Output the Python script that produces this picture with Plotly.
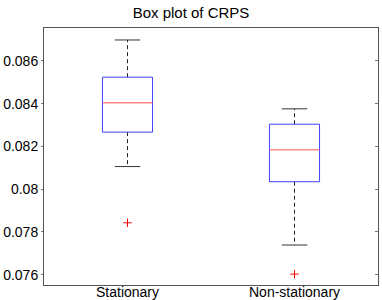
import plotly.graph_objects as go

categories = ["Stationary", "Non-stationary"]
q1 = [0.08267, 0.08035]
median = [0.08404, 0.08184]
q3 = [0.08524, 0.08304]
lower_whisker = [0.08106, 0.07739]
upper_whisker = [0.08698, 0.08376]
outliers = [[0.07843], [0.07603]]
ytick_vals = [0.076, 0.078, 0.08, 0.082, 0.084, 0.086]
ytick_text = ["0.076", "0.078", "0.08", "0.082", "0.084", "0.086"]

BOX_HW = 0.15
CAP_HW = 0.076

fig = go.Figure()
positions = [1, 2]
for i, x in enumerate(positions):
    fig.add_trace(go.Scatter(x=[x, x, None, x, x],
                             y=[q3[i], upper_whisker[i], None, q1[i], lower_whisker[i]],
                             mode="lines", line=dict(color="#222", width=1, dash="4px,3px"),
                             hoverinfo="skip", showlegend=False))
    fig.add_trace(go.Scatter(x=[x - CAP_HW, x + CAP_HW, None, x - CAP_HW, x + CAP_HW],
                             y=[upper_whisker[i], upper_whisker[i], None, lower_whisker[i], lower_whisker[i]],
                             mode="lines", line=dict(color="#333", width=1),
                             hoverinfo="skip", showlegend=False))
    fig.add_trace(go.Scatter(x=[x - BOX_HW, x + BOX_HW, x + BOX_HW, x - BOX_HW, x - BOX_HW],
                             y=[q1[i], q1[i], q3[i], q3[i], q1[i]],
                             mode="lines", line=dict(color="#4040ff", width=1),
                             hoverinfo="skip", showlegend=False))
    fig.add_trace(go.Scatter(x=[x - BOX_HW, x + BOX_HW], y=[median[i], median[i]],
                             mode="lines", line=dict(color="#ff5050", width=1),
                             hoverinfo="skip", showlegend=False))
    fig.add_trace(go.Scatter(x=[x] * len(outliers[i]), y=outliers[i], mode="markers",
                             marker=dict(symbol="cross-thin", size=6, color="red",
                                         line=dict(color="red", width=1)),
                             showlegend=False))

for x, label in zip(positions, categories):
    fig.add_annotation(x=x, xref="x", y=0, yref="paper", text=label, showarrow=False,
                       xanchor="center", yanchor="top", yshift=3,
                       font=dict(size=14, color="black"))

yrange = [0.07552, 0.08754]
fig.update_layout(
    width=382, height=300,
    margin=dict(l=37, r=3, t=28, b=15),
    paper_bgcolor="white", plot_bgcolor="white",
    font=dict(family="Liberation Sans, Arial, sans-serif", size=14, color="black"),
    title=dict(text="Box plot of CRPS", x=0.5, xanchor="center", y=0.957, yanchor="middle",
               font=dict(size=15)),
    xaxis=dict(range=[0.5, 2.5], tickvals=positions, showticklabels=False, ticks="",
               showgrid=False, zeroline=False, showline=True, linecolor="#555", linewidth=1,
               mirror=True, fixedrange=True),
    yaxis=dict(range=yrange, tickvals=ytick_vals, ticktext=ytick_text,
               ticks="outside", ticklen=2, tickcolor="#777", ticklabelstandoff=0,
               showgrid=False, zeroline=False, showline=True, linecolor="#555", linewidth=1,
               mirror=True),
    yaxis2=dict(range=yrange, overlaying="y", side="right", tickvals=ytick_vals,
                ticks="inside", ticklen=3, tickcolor="#777", showticklabels=False,
                showgrid=False, zeroline=False, showline=False),
)
fig.add_trace(go.Scatter(x=[None], y=[None], yaxis="y2", showlegend=False, hoverinfo="skip"))

fig.write_html("out.html", config={"displayModeBar": False},
               post_script="document.body.style.margin='0';document.body.style.overflow='hidden';")
